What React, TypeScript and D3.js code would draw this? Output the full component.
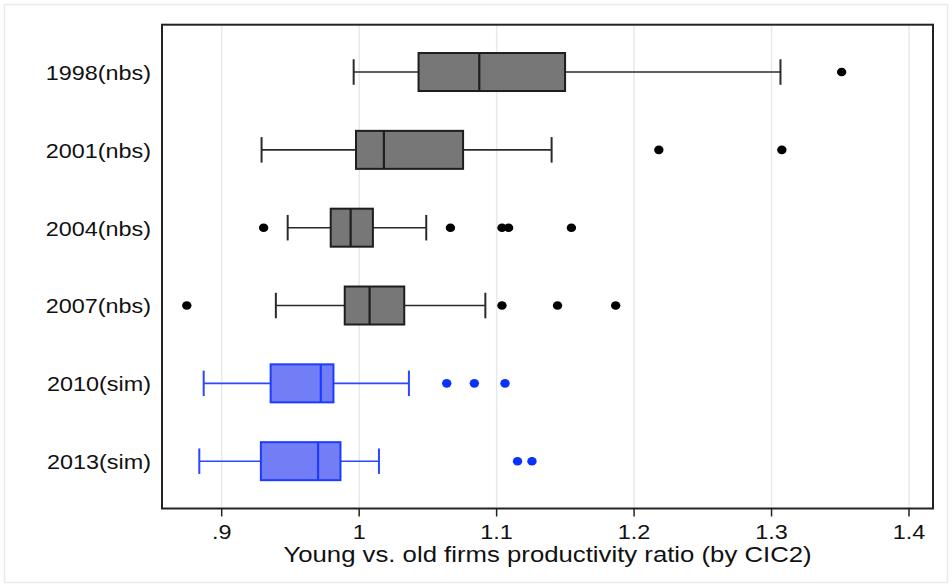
import React from "react";
import * as d3 from "d3";

const categories = ["1998(nbs)", "2001(nbs)", "2004(nbs)", "2007(nbs)", "2010(sim)", "2013(sim)"];
const source = ["nbs", "nbs", "nbs", "nbs", "sim", "sim"];
const lowerWhisker = [0.996, 0.929, 0.948, 0.9394, 0.8869, 0.8837];
const q1 = [1.0432, 0.9977, 0.9793, 0.9895, 0.9356, 0.9285];
const median = [1.0874, 1.018, 0.9938, 1.0076, 0.9721, 0.9701];
const q3 = [1.1498, 1.0756, 1.01, 1.0328, 0.9813, 0.9864];
const upperWhisker = [1.3065, 1.14, 1.0488, 1.0918, 1.0362, 1.0144];
const outliers = [
  [1.351],
  [1.218, 1.3075],
  [0.9305, 1.0664, 1.1039, 1.1087, 1.1544],
  [0.8746, 1.1039, 1.1443, 1.1866],
  [1.0637, 1.0838, 1.1061],
  [1.1152, 1.1257],
];
const xTicks = [0.9, 1.0, 1.1, 1.2, 1.3, 1.4];
const xTickLabels = [".9", "1", "1.1", "1.2", "1.3", "1.4"];
const xTitle = "Young vs. old firms productivity ratio (by CIC2)";

const W = 952;
const H = 587;
const plot = { left: 162, right: 933, top: 24.7, bottom: 508.5 };
const FONT = "'Liberation Sans', Arial, Helvetica, sans-serif";
const SX = 1.17;

const colors: Record<string, { fill: string; stroke: string; whisker: string; dot: string }> = {
  nbs: { fill: "#777777", stroke: "#1e1e1e", whisker: "#2a2a2a", dot: "#000000" },
  sim: { fill: "#737df6", stroke: "#1c3cff", whisker: "#2a48ff", dot: "#0a32ff" },
};

export default function App() {
  const x = d3.scaleLinear().domain([0.9, 1.4]).range([221.7, 909]);
  const y = d3
    .scalePoint<string>()
    .domain(categories)
    .range([plot.top, plot.bottom])
    .padding(0.608);
  const boxH = 38;
  const capH = 25.5;

  return (
    <svg
      width={W}
      height={H}
      style={{ position: "fixed", left: 0, top: 0, background: "#fff" }}
      fontFamily={FONT}
    >
      <rect x={0} y={0} width={W} height={H} fill="#fff" />
      <rect x={4.5} y={4.5} width={W - 9} height={H - 9} fill="none" stroke="#e6ecee" strokeWidth={1.5} />
      {/* gridlines */}
      {xTicks.map((t) => (
        <line
          key={"g" + t}
          x1={x(t)}
          x2={x(t)}
          y1={plot.top}
          y2={plot.bottom}
          stroke="#e3ebee"
          strokeWidth={1.5}
        />
      ))}
      {/* boxes */}
      {categories.map((c, i) => {
        const cy = y(c) as number;
        const col = colors[source[i]];
        return (
          <g key={c}>
            <line x1={x(lowerWhisker[i])} x2={x(q1[i])} y1={cy} y2={cy} stroke={col.whisker} strokeWidth={1.6} />
            <line x1={x(q3[i])} x2={x(upperWhisker[i])} y1={cy} y2={cy} stroke={col.whisker} strokeWidth={1.6} />
            <line
              x1={x(lowerWhisker[i])}
              x2={x(lowerWhisker[i])}
              y1={cy - capH / 2}
              y2={cy + capH / 2}
              stroke={col.whisker}
              strokeWidth={2}
            />
            <line
              x1={x(upperWhisker[i])}
              x2={x(upperWhisker[i])}
              y1={cy - capH / 2}
              y2={cy + capH / 2}
              stroke={col.whisker}
              strokeWidth={2}
            />
            <rect
              x={x(q1[i])}
              y={cy - boxH / 2}
              width={x(q3[i]) - x(q1[i])}
              height={boxH}
              fill={col.fill}
              stroke={col.stroke}
              strokeWidth={2}
            />
            <line
              x1={x(median[i])}
              x2={x(median[i])}
              y1={cy - boxH / 2}
              y2={cy + boxH / 2}
              stroke={col.stroke}
              strokeWidth={2.2}
            />
            {outliers[i].map((v, j) => (
              <ellipse key={j} cx={x(v)} cy={cy} rx={4.7} ry={4.3} fill={col.dot} />
            ))}
            <text
              transform={`translate(151,${cy + 1}) scale(${SX},1)`}
              textAnchor="end"
              dominantBaseline="central"
              fontSize={20}
              fill="#111"
            >
              {c}
            </text>
          </g>
        );
      })}
      {/* plot frame */}
      <rect
        x={plot.left}
        y={plot.top}
        width={plot.right - plot.left}
        height={plot.bottom - plot.top}
        fill="none"
        stroke="#222"
        strokeWidth={2}
      />
      {/* x ticks */}
      {xTicks.map((t, i) => (
        <g key={"t" + t}>
          <line x1={x(t)} x2={x(t)} y1={plot.bottom} y2={plot.bottom + 8} stroke="#222" strokeWidth={1.5} />
          <text
            transform={`translate(${x(t)},538.5) scale(${SX},1)`}
            textAnchor="middle"
            fontSize={20}
            fill="#111"
          >
            {xTickLabels[i]}
          </text>
        </g>
      ))}
      <text
        transform={`translate(${(plot.left + plot.right) / 2},561.5) scale(${SX},1)`}
        textAnchor="middle"
        fontSize={22}
        fill="#111"
      >
        {xTitle}
      </text>
    </svg>
  );
}
